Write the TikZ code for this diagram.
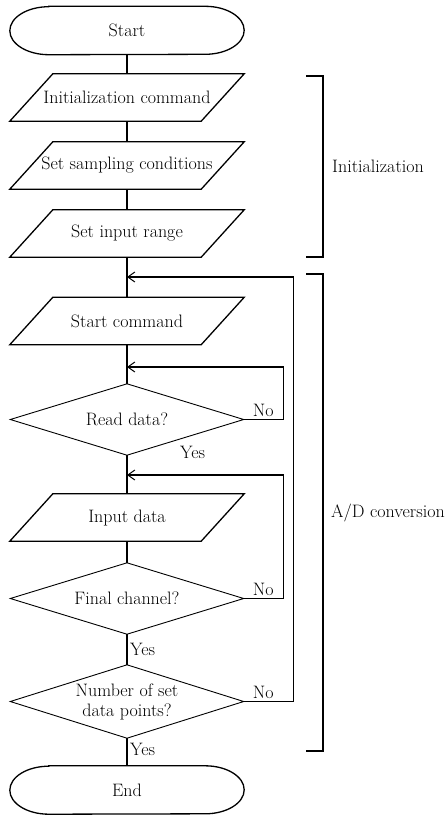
\documentclass[tikz,border=0pt]{standalone}
\usetikzlibrary{arrows.meta}
\begin{document}
\begin{tikzpicture}[x=1pt, y=-1pt,
  font=\fontsize{18}{20}\selectfont,
  term/.style={draw=none, inner sep=0pt, minimum width=234pt, minimum height=48pt},
  io/.style={draw=none, inner sep=0pt, minimum width=191pt, minimum height=47pt},
  decision/.style={draw=none, inner sep=0pt, minimum width=233pt, minimum height=71pt, align=center},
  outline/.style={line width=1.3pt, line join=miter},
  thinline/.style={line width=0.9pt, line join=miter},
  flow/.style={line width=1.5pt},
  merge/.style={-{Straight Barb[length=7pt, width=10pt, line width=1pt]}},
  bracket/.style={line width=2.4pt, line join=miter, line cap=butt},
  label/.style={inner sep=0pt}]
\useasboundingbox (0,0) rectangle (446,815);

% main column
\node[term] (start) at (127,30.5) {Start};
\node[io] (init) at (127,97.5) {Initialization command};
\node[io] (samp) at (127,165.5) {Set sampling conditions};
\node[io] (range) at (127,233.5) {Set input range};
\node[io] (cmd) at (127,321) {Start command};
\node[decision] (read) at (127,419.5) {Read data?};
\node[io] (inp) at (127,517.5) {Input data};
\node[decision] (final) at (127,598.5) {Final channel?};
\node[decision, minimum height=73pt] (count) at (127,701.5) {Number of set\\data points?};
\node[term] (end) at (127,790) {End};

% terminal outlines
\foreach \n in {start,end}
  \draw[outline] ([xshift=39pt]\n.north west) -- ([xshift=-39pt]\n.north east)
    arc[start angle=90, end angle=-90, x radius=39pt, y radius=24pt]
    -- ([xshift=39pt]\n.south west)
    arc[start angle=270, end angle=90, x radius=39pt, y radius=24pt] -- cycle;

% input/output parallelograms
\foreach \n in {init,samp,range,cmd,inp}
  \draw[outline] ([xshift=21.5pt]\n.north west) -- ([xshift=21.5pt]\n.north east)
    -- ([xshift=-21.5pt]\n.south east) -- ([xshift=-21.5pt]\n.south west) -- cycle;

% decision diamonds
\foreach \n in {read,final,count}
  \draw[thinline] (\n.north) -- (\n.east) -- (\n.south) -- (\n.west) -- cycle;

% straight flow
\draw[flow] (start.south) -- (init.north);
\draw[flow] (init.south) -- (samp.north);
\draw[flow] (samp.south) -- (range.north);
\draw[flow] (range.south) -- (cmd.north);
\draw[flow] (cmd.south) -- (read.north);
\draw[flow] (read.south) -- (inp.north);
\draw[flow] (inp.south) -- (final.north);
\draw[flow] (final.south) -- (count.north);
\draw[flow] (count.south) -- (end.north);

% loop-back points on the main column
\coordinate (m1) at (127,277);
\coordinate (m2) at (127,367);
\coordinate (m3) at (127,475);
\coordinate (c1) at (293.5,277);
\coordinate (c2) at (283.5,367);
\coordinate (c3) at (283.5,475);

\draw[flow, merge] (count.east) -| (c1) -- (m1);
\draw[flow, merge] (read.east) -| (c2) -- (m2);
\draw[flow, merge] (final.east) -| (c3) -- (m3);

% branch labels
\node[label, anchor=south] (no1) at ([xshift=19.5pt, yshift=3pt]read.east) {No};
\node[label, anchor=south] (no2) at ([xshift=19.5pt, yshift=3pt]final.east) {No};
\node[label, anchor=south] (no3) at ([xshift=19.5pt, yshift=3pt]count.east) {No};
\node[label, anchor=west] (yes1) at (180,452) {Yes};
\node[label, anchor=west] (yes2) at (130,649) {Yes};
\node[label, anchor=west] (yes3) at (130,749) {Yes};

% phase brackets
\coordinate (i1) at (306,76);
\coordinate (i2) at (323,76);
\coordinate (i3) at (323,257);
\coordinate (i4) at (306,257);
\draw[bracket] (i1) -- (i2) -- (i3) -- (i4);
\node[label, anchor=west] (initlbl) at (332,166) {Initialization};

\coordinate (a1) at (306,274);
\coordinate (a2) at (323,274);
\coordinate (a3) at (323,751);
\coordinate (a4) at (306,751);
\draw[bracket] (a1) -- (a2) -- (a3) -- (a4);
\node[label, anchor=west] (adlbl) at (331,513) {A/D conversion};
\end{tikzpicture}
\end{document}
